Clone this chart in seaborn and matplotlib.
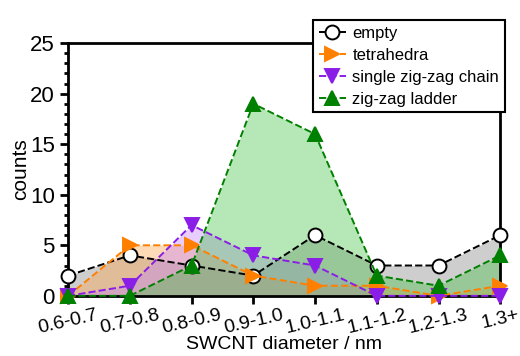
import matplotlib
matplotlib.use("Agg")
import matplotlib.pyplot as plt
import seaborn as sns
import pandas as pd
from matplotlib.ticker import MultipleLocator

# --- data ---
categories = ["0.6-0.7", "0.7-0.8", "0.8-0.9", "0.9-1.0",
              "1.0-1.1", "1.1-1.2", "1.2-1.3", "1.3+"]
empty = [2, 4, 3, 2, 6, 3, 3, 6]
tetrahedra = [0, 5, 5, 2, 1, 1, 0, 1]
single_chain = [0, 1, 7, 4, 3, 0, 0, 0]
ladder = [0, 0, 3, 19, 16, 2, 1, 4]

series = [
    ("empty", empty, "black", "#808080", "o", "white"),
    ("tetrahedra", tetrahedra, "#ff8000", "#ff9f40", ">", None),
    ("single zig-zag chain", single_chain, "#8a1ee6", "#c080ff", "v", None),
    ("zig-zag ladder", ladder, "#008000", "#40c040", "^", None),
]

sns.set_style("ticks")
plt.rcParams["font.family"] = ["Liberation Sans", "DejaVu Sans"]
plt.rcParams["axes.edgecolor"] = "black"
plt.rcParams["xtick.color"] = "black"
plt.rcParams["ytick.color"] = "black"
plt.rcParams["text.color"] = "black"
plt.rcParams["axes.labelcolor"] = "black"

fig = plt.figure(figsize=(5.2, 3.56), dpi=100)
ax = fig.add_axes([0.131, 0.169, 0.831, 0.71])

x = list(range(len(categories)))
for name, vals, col, fill, mk, mfc in series:
    df = pd.DataFrame({"x": x, "y": vals})
    ax.fill_between(x, 0, vals, color=fill, alpha=0.38, linewidth=0)
    sns.lineplot(data=df, x="x", y="y", ax=ax, color=col, linestyle="--",
                 linewidth=1.4, marker=mk, markersize=10,
                 markerfacecolor=mfc if mfc else col,
                 markeredgecolor=col, markeredgewidth=1.4,
                 label=name, clip_on=False, zorder=3)

ax.set_xlim(0, 7)
ax.set_ylim(0, 25)
ax.set_xticks(x)
ax.set_xticklabels(categories, rotation=13, fontsize=14)
ax.yaxis.set_major_locator(MultipleLocator(5))
ax.yaxis.set_minor_locator(MultipleLocator(1))
ax.tick_params(axis="y", which="major", labelsize=16, length=6, width=2)
ax.tick_params(axis="y", which="minor", length=3, width=2)
ax.tick_params(axis="x", length=6, width=2, pad=2)
for sp in ax.spines.values():
    sp.set_linewidth(2)
    sp.set_visible(True)

ax.set_xlabel("SWCNT diameter / nm", fontsize=14, labelpad=-1)
ax.set_ylabel("counts", fontsize=15, labelpad=0)

leg = ax.legend(loc="upper right", bbox_to_anchor=(1.03, 1.125), fontsize=12,
                frameon=True, fancybox=False, framealpha=1, edgecolor="black",
                handlelength=1.6, borderpad=0.35, labelspacing=0.42,
                handletextpad=0.4)
leg.get_frame().set_linewidth(1.5)
leg.set_zorder(10)

plt.savefig("out.png", dpi=100)
